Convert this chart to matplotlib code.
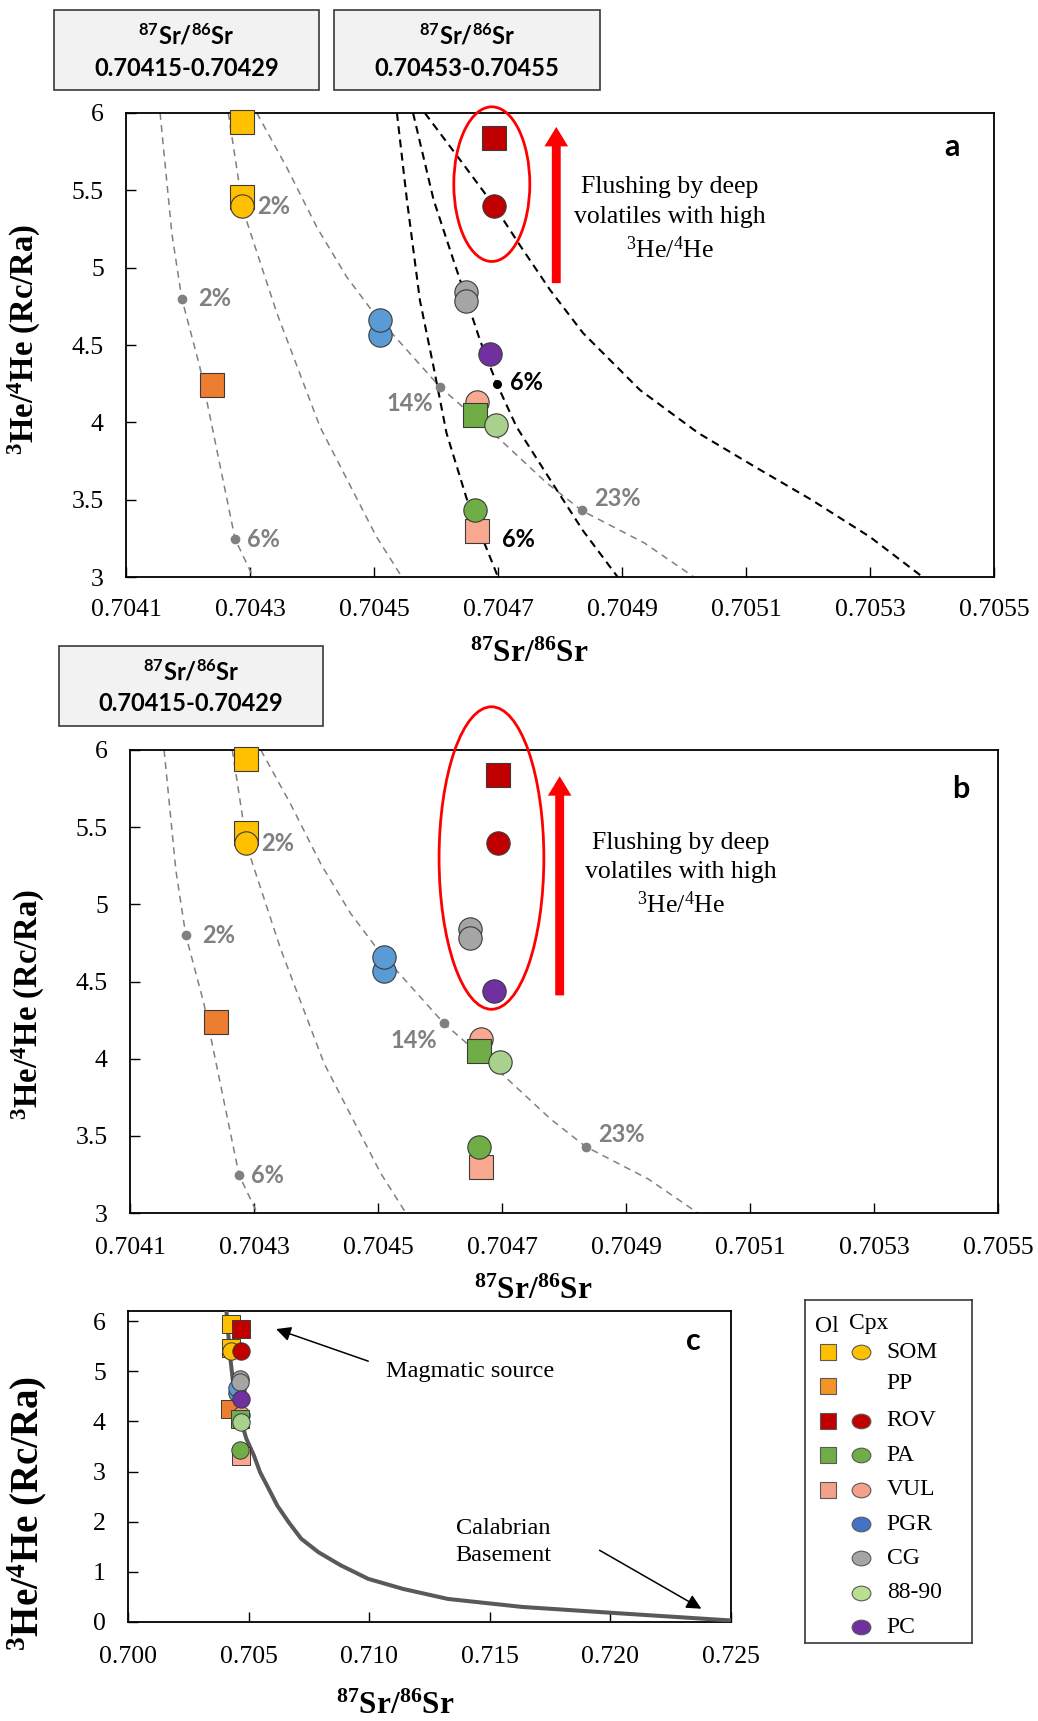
import matplotlib
matplotlib.use('Agg')
import matplotlib.pyplot as plt
from matplotlib.patches import Ellipse, Rectangle, FancyArrowPatch, ArrowStyle
from matplotlib.path import Path
from matplotlib.transforms import Affine2D

plt.rcParams['font.family'] = ['Liberation Serif', 'DejaVu Serif']
plt.rcParams['mathtext.default'] = 'regular'

# ------------------------------------------------------------------ data
sample_group = ['SOM', 'SOM', 'SOM', 'PP', 'ROV', 'ROV', 'VUL', 'PA', '88-90',
                'VUL', 'PA', 'PGR', 'PGR', 'CG', 'CG', 'PC']
sample_phase = ['Ol', 'Ol', 'Cpx', 'Ol', 'Ol', 'Cpx', 'Cpx', 'Ol', 'Cpx',
                'Ol', 'Cpx', 'Cpx', 'Cpx', 'Cpx', 'Cpx', 'Cpx']
sample_sr = [0.704287, 0.704287, 0.704287, 0.704238, 0.704694, 0.704694, 0.704666,
             0.704663, 0.704697, 0.704666, 0.704663, 0.704509, 0.704509, 0.704648,
             0.704648, 0.704687]
sample_he = [5.94, 5.46, 5.40, 4.24, 5.84, 5.40, 4.13, 4.05, 3.98, 3.30, 3.43,
             4.565, 4.66, 4.84, 4.785, 4.44]

# mixing curves (grey: panels a, b; black: panel a)
grey1_sr = [0.704155, 0.704174, 0.704190, 0.704219, 0.704241, 0.704276, 0.704305]
grey1_he = [6.0, 5.22, 4.80, 4.36, 3.93, 3.245, 3.0]
grey2_sr = [0.704265, 0.704289, 0.704343, 0.704413, 0.704504, 0.704545]
grey2_he = [6.0, 5.37, 4.71, 3.97, 3.26, 3.0]
grey3_sr = [0.704311, 0.704359, 0.704408, 0.704456, 0.704499, 0.704606, 0.704703,
            0.704778, 0.704835, 0.704936, 0.705016]
grey3_he = [6.0, 5.65, 5.26, 4.94, 4.71, 4.23, 3.89, 3.61, 3.43, 3.22, 3.0]
black1_sr = [0.704537, 0.704553, 0.704574, 0.704596, 0.704617, 0.704650, 0.704700]
black1_he = [6.0, 5.44, 4.79, 4.36, 3.93, 3.50, 3.0]
black2_sr = [0.704563, 0.704596, 0.704628, 0.704648, 0.704671, 0.704698, 0.704730,
             0.704784, 0.704837, 0.704893]
black2_he = [6.0, 5.44, 5.05, 4.81, 4.53, 4.25, 3.97, 3.63, 3.30, 3.0]
black3_sr = [0.704582, 0.704639, 0.704694, 0.704735, 0.704784, 0.704837, 0.704929,
             0.705023, 0.705115, 0.705206, 0.705300, 0.705385]
black3_he = [6.0, 5.696, 5.399, 5.147, 4.856, 4.578, 4.209, 3.931, 3.711, 3.498,
             3.259, 3.0]

# mixing-percentage tick points
grey_dot_sr = [0.704190, 0.704276, 0.704606, 0.704835]
grey_dot_he = [4.80, 3.245, 4.23, 3.43]
black_dot_sr = [0.704698]
black_dot_he = [4.25]

# panel c mixing curve magma - Calabrian basement
basement_sr = [0.70408, 0.70423, 0.70439, 0.70470, 0.70491, 0.70522, 0.70548,
               0.70584, 0.70619, 0.70666, 0.70718, 0.70790, 0.70882, 0.70996,
               0.71140, 0.71326, 0.71635, 0.72047, 0.72500]
basement_he = [6.20, 5.31, 4.64, 3.98, 3.65, 3.32, 2.98, 2.65, 2.32, 1.99, 1.66,
               1.39, 1.13, 0.86, 0.66, 0.46, 0.30, 0.17, 0.03]

ab_xticks = [0.7041, 0.7043, 0.7045, 0.7047, 0.7049, 0.7051, 0.7053, 0.7055]
ab_xticklabels = ['0.7041', '0.7043', '0.7045', '0.7047', '0.7049', '0.7051', '0.7053', '0.7055']
ab_yticks = [3, 3.5, 4, 4.5, 5, 5.5, 6]
ab_yticklabels = ['3', '3.5', '4', '4.5', '5', '5.5', '6']
c_xticks = [0.700, 0.705, 0.710, 0.715, 0.720, 0.725]
c_xticklabels = ['0.700', '0.705', '0.710', '0.715', '0.720', '0.725']
c_yticks = [0, 1, 2, 3, 4, 5, 6]
c_yticklabels = ['0', '1', '2', '3', '4', '5', '6']

legend_groups = ['SOM', 'PP', 'ROV', 'PA', 'VUL', 'PGR', 'CG', '88-90', 'PC']
legend_has_ol = [True, True, True, True, True, False, False, False, False]
legend_has_cpx = [True, False, True, True, True, True, True, True, True]

plot_colors = {'SOM': '#FFC000', 'PP': '#ED7D31', 'ROV': '#C00000', 'PA': '#70AD47',
               'VUL': '#F8A990', 'PGR': '#5B9BD5', 'CG': '#A5A5A5', '88-90': '#A9D18E',
               'PC': '#7030A0'}
legend_colors = {'SOM': '#FFC000', 'PP': '#F39426', 'ROV': '#C00000', 'PA': '#70AD47',
                 'VUL': '#F4A08A', 'PGR': '#4472C4', 'CG': '#A5A5A5', '88-90': '#B9E08F',
                 'PC': '#7030A0'}

# ------------------------------------------------------------------ figure
W, H = 1038, 1721
fig = plt.figure(figsize=(W / 100, H / 100), dpi=100)


def fax(l, t, r, b):
    return fig.add_axes([l / W, 1 - b / H, (r - l) / W, (b - t) / H])


SANS = ['Lato', 'DejaVu Sans']
SERIF = ['Liberation Serif', 'DejaVu Serif']
SR_LABEL = r'$^{87}$Sr/$^{86}$Sr'
HE_LABEL = r'$^{3}$He/$^{4}$He (Rc/Ra)'


def style_axes(ax, xt, xtl, yt, ytl, xpad):
    ax.set_xticks(xt)
    ax.set_xticklabels(xtl)
    ax.set_yticks(yt)
    ax.set_yticklabels(ytl)
    ax.tick_params(direction='in', length=7, width=1.0, labelsize=18.5, color='black')
    ax.tick_params(axis='x', pad=xpad)
    ax.tick_params(axis='y', pad=16)
    for s in ax.spines.values():
        s.set_linewidth(1.3)
        s.set_color('black')
    for lab in ax.get_xticklabels() + ax.get_yticklabels():
        lab.set_family(SERIF)


def draw_samples(ax, ms_sq, ms_ci, ew):
    for g, ph, x, y in zip(sample_group, sample_phase, sample_sr, sample_he):
        ax.plot([x], [y], marker='s' if ph == 'Ol' else 'o',
                ms=ms_sq if ph == 'Ol' else ms_ci, color=plot_colors[g],
                mec='#3a3a3a', mew=ew, ls='none', zorder=5, clip_on=False)


def dashed(ax, xs, ys, color, lw, on, off):
    ax.plot(xs, ys, color=color, lw=lw, ls=(0, (on, off)), zorder=2,
            dash_capstyle='butt')


def pct(ax, x, y, s, color, ha='left'):
    ax.text(x, y, s, color=color, family=SANS, weight='bold', fontsize=17,
            ha=ha, va='center', zorder=6)


def draw_ab(ax, with_black, xpad):
    ax.set_xlim(0.7041, 0.7055)
    ax.set_ylim(3, 6)
    style_axes(ax, ab_xticks, ab_xticklabels, ab_yticks, ab_yticklabels, xpad)
    gc = '#808080'
    for xs, ys in [(grey1_sr, grey1_he), (grey2_sr, grey2_he), (grey3_sr, grey3_he)]:
        dashed(ax, xs, ys, gc, 1.1, 4.5, 3.5)
    ax.plot(grey_dot_sr, grey_dot_he, 'o', ms=7, color=gc, mew=0, zorder=3)
    if with_black:
        for xs, ys in [(black1_sr, black1_he), (black2_sr, black2_he), (black3_sr, black3_he)]:
            dashed(ax, xs, ys, 'black', 1.5, 3.8, 2.6)
        ax.plot(black_dot_sr, black_dot_he, 'o', ms=6.5, color='black', mew=0, zorder=3)
    pct(ax, 0.704311, 5.394, '2%', gc)
    pct(ax, 0.704217, 4.80, '2%', gc)
    pct(ax, 0.704295, 3.245, '6%', gc)
    pct(ax, 0.704596, 4.12, '14%', gc, ha='right')
    pct(ax, 0.704855, 3.51, '23%', gc)
    if with_black:
        pct(ax, 0.704720, 4.26, '6%', 'black')
        pct(ax, 0.704706, 3.245, '6%', 'black')
    ax.set_xlabel(SR_LABEL, family=SERIF, weight='bold', fontsize=22.5, va='center')
    ax.set_ylabel(HE_LABEL, family=SERIF, weight='bold', fontsize=23.5, va='center')
    draw_samples(ax, 16.8, 16.8, 0.8)


def box(x0, y0, x1, y1, text2):
    fig.add_artist(Rectangle((x0 / W, 1 - y1 / H), (x1 - x0) / W, (y1 - y0) / H,
                             transform=fig.transFigure, facecolor='#F2F2F2',
                             edgecolor='#3a3a3a', lw=1.2))
    cx = (x0 + x1) / 2 / W
    fig.text(cx, 1 - (y0 + 26) / H, SR_LABEL, family=SANS, weight='bold',
             fontsize=17, ha='center', va='center')
    fig.text(cx, 1 - (y0 + 58) / H, text2, family=SANS, weight='bold',
             fontsize=17, ha='center', va='center')


def red_arrow(ax, x, y0, y1):
    ax.add_patch(FancyArrowPatch((x, y0), (x, y1),
                                 arrowstyle=ArrowStyle('simple', head_length=14,
                                                       head_width=17, tail_width=6.4),
                                 mutation_scale=1, color='#FF0000', lw=0,
                                 shrinkA=0, shrinkB=0, zorder=4))


FLUSH = 'Flushing by deep\nvolatiles with high\n$^{3}$He/$^{4}$He'

# ---------------- panel a
axa = fax(126, 113, 994, 577)
draw_ab(axa, True, 16)
axa.add_patch(Ellipse((0.70469, 5.54), 0.0001226, 1.0, fill=False, edgecolor='#FF0000',
                      lw=2, zorder=4, clip_on=False))
red_arrow(axa, 0.704794, 4.90, 5.91)
axa.text(0.704977, 5.31, FLUSH, family=SERIF, fontsize=18.5, ha='center', va='center',
         linespacing=1.42)
axa.text(0.705432, 5.78, 'a', family=SANS, weight='bold', fontsize=22, ha='center',
         va='center')
axa.xaxis.set_label_coords(0.465, -0.166)
axa.yaxis.set_label_coords(-0.1175, 0.512)
box(54, 10, 319, 90, '0.70415-0.70429')
box(334, 10, 600, 90, '0.70453-0.70455')

# ---------------- panel b
axb = fax(130, 750, 998, 1213)
draw_ab(axb, False, 17)
axb.add_patch(Ellipse((0.704683, 5.30), 0.000169, 1.96, fill=False, edgecolor='#FF0000',
                      lw=2, zorder=4, clip_on=False))
red_arrow(axb, 0.704793, 4.41, 5.83)
axb.text(0.704989, 5.19, FLUSH, family=SERIF, fontsize=18.5, ha='center', va='center',
         linespacing=1.42)
axb.text(0.70544, 5.75, 'b', family=SANS, weight='bold', fontsize=22, ha='center',
         va='center')
axb.xaxis.set_label_coords(0.465, -0.17)
axb.yaxis.set_label_coords(-0.117, 0.45)
box(59, 646, 323, 726, '0.70415-0.70429')

# ---------------- panel c
axc = fax(128, 1311, 731, 1622)
axc.set_xlim(0.700, 0.725)
axc.set_ylim(0, 6.2)
style_axes(axc, c_xticks, c_xticklabels, c_yticks, c_yticklabels, 17)
axc.plot(basement_sr, basement_he, color='#595959', lw=2.9, zorder=3,
         solid_capstyle='round', solid_joinstyle='round')
draw_samples(axc, 12.5, 12.5, 0.7)
axc.annotate('', xy=(0.70614, 5.84), xytext=(0.70996, 5.2),
             arrowprops=dict(arrowstyle='-|>', mutation_scale=22, lw=1.1, color='black',
                             shrinkA=0, shrinkB=0))
axc.annotate('', xy=(0.72377, 0.265), xytext=(0.71955, 1.43),
             arrowprops=dict(arrowstyle='-|>', mutation_scale=22, lw=1.1, color='black',
                             shrinkA=0, shrinkB=0))
axc.text(0.71419, 5.0, 'Magmatic source', family=SERIF, fontsize=17.5, ha='center',
         va='center')
axc.text(0.71555, 1.6, 'Calabrian\nBasement', family=SERIF, fontsize=17.5, ha='center',
         va='center', linespacing=1.38)
axc.text(0.72346, 5.6, 'c', family=SANS, weight='bold', fontsize=22, ha='center',
         va='center')
axc.set_xlabel(SR_LABEL, family=SERIF, weight='bold', fontsize=22.5, va='center')
axc.set_ylabel(HE_LABEL, family=SERIF, weight='bold', fontsize=28, va='center')
axc.xaxis.set_label_coords(0.443, -0.272)
axc.yaxis.set_label_coords(-0.168, 0.35)

# ---------------- legend
axl = fax(805, 1300, 972, 1643)
axl.set_xlim(0, 167)
axl.set_ylim(343, 0)
axl.set_xticks([])
axl.set_yticks([])
for s in axl.spines.values():
    s.set_linewidth(1.2)
    s.set_color('#3a3a3a')
ell = Path.unit_circle().transformed(Affine2D().scale(1.0, 0.78))
axl.text(21.7, 26, 'Ol', family=SERIF, fontsize=17, ha='center', va='center')
axl.text(64, 24, 'Cpx', family=SERIF, fontsize=17, ha='center', va='center')
for i, (g, ho, hc) in enumerate(zip(legend_groups, legend_has_ol, legend_has_cpx)):
    yy = 52 + 34.4 * i
    if ho:
        axl.plot([22.7], [yy], marker='s', ms=12, color=legend_colors[g],
                 mec='#595959', mew=0.8, ls='none')
    if hc:
        axl.plot([55.7], [yy], marker=ell, ms=13.5, color=legend_colors[g],
                 mec='#595959', mew=0.8, ls='none')
    axl.text(81.7, yy - (3 if g == 'PP' else 0), g, family=SERIF, fontsize=17,
             ha='left', va='center')

fig.savefig('out.png', dpi=100)
